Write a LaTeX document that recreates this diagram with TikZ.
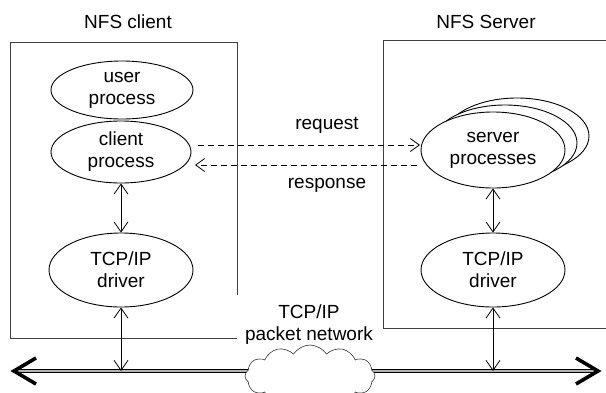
\documentclass[tikz,border=0pt]{standalone}
\usepackage{fontspec}
\setmainfont{Liberation Sans}
\usetikzlibrary{shapes.geometric,shapes.symbols,arrows.meta}
\begin{document}
\begin{tikzpicture}[x=1pt,y=-1pt,
  txt/.style={font=\fontsize{19}{22}\selectfont, align=center, inner sep=0pt},
  proc/.style={ellipse, draw, fill=white, line width=0.9pt, inner sep=0pt, align=center,
    font=\fontsize{19}{22}\selectfont},
  box/.style={draw=black!75, line width=0.8pt},
  varr/.style={{Straight Barb[length=10pt,width=14pt]}-{Straight Barb[length=10pt,width=14pt]}, line width=0.8pt},
  dasharrow/.style={dash pattern=on 6pt off 4pt, -{Straight Barb[length=9pt,width=13pt]}, line width=0.8pt},
  chev/.style={line width=3.6pt, line join=miter, miter limit=10}
]
\useasboundingbox (0,0) rectangle (606,392);

% titles
\node[txt] (tclient) at (128,22) {NFS client};
\node[txt] (tserver) at (486,22) {NFS Server};

% boxes
\draw[box] (237,295) -- (237,42) -- (10,42) -- (10,338) -- (237,338);
\draw[box] (612,40) -- (383,40) -- (383,328) -- (612,328);

% bus
\coordinate (bl) at (14,371);
\coordinate (br) at (598,371);
\draw[line width=0.9pt, double=black!30, double distance=2pt] (bl) -- (br);
\draw[chev] (36,358) -- (bl) -- (36,384);
\draw[chev] (576,358) -- (br) -- (576,384);

% cloud
\node[cloud, draw=black!80, fill=white, cloud puffs=12, cloud puff arc=115,
  minimum width=130pt, minimum height=62pt, aspect=2.1, line width=0.6pt] (cloud) at (310,376) {};

% network label
\node[txt] (net) at (309,325) {TCP/IP\\packet network};

% client processes
\node[proc, minimum width=142pt, minimum height=58pt] (up) at (122,90) {user\\process};
\node[proc, minimum width=140pt, minimum height=62pt] (cp) at (121,152) {client\\process};
\node[proc, minimum width=144pt, minimum height=74pt] (ctcp) at (121,270) {TCP/IP\\driver};

% server processes
\node[proc, minimum width=144pt, minimum height=76pt] (sp3) at (517,136) {};
\node[proc, minimum width=144pt, minimum height=76pt] (sp2) at (505,143) {};
\node[proc, minimum width=144pt, minimum height=76pt] (sp) at (493,150) {server\\processes};
\node[proc, minimum width=144pt, minimum height=74pt] (stcp) at (493,270) {TCP/IP\\driver};

% vertical arrows
\coordinate (cb) at (121,371);
\coordinate (sb) at (493,371);
\draw[varr] (cp.south) -- (ctcp.north);
\draw[varr] (ctcp.south) -- (cb);
\draw[varr] (sp.south) -- (stcp.north);
\draw[varr] (stcp.south) -- (sb);

% request / response
\coordinate (rq1) at (198,145);
\coordinate (rq2) at (420,145);
\coordinate (rs1) at (417,165);
\coordinate (rs2) at (195,165);
\draw[dasharrow] (rq1) -- (rq2);
\draw[dasharrow] (rs1) -- (rs2);
\node[txt] (req) at (327,125) {request};
\node[txt] (resp) at (327,185) {response};
\end{tikzpicture}
\end{document}
